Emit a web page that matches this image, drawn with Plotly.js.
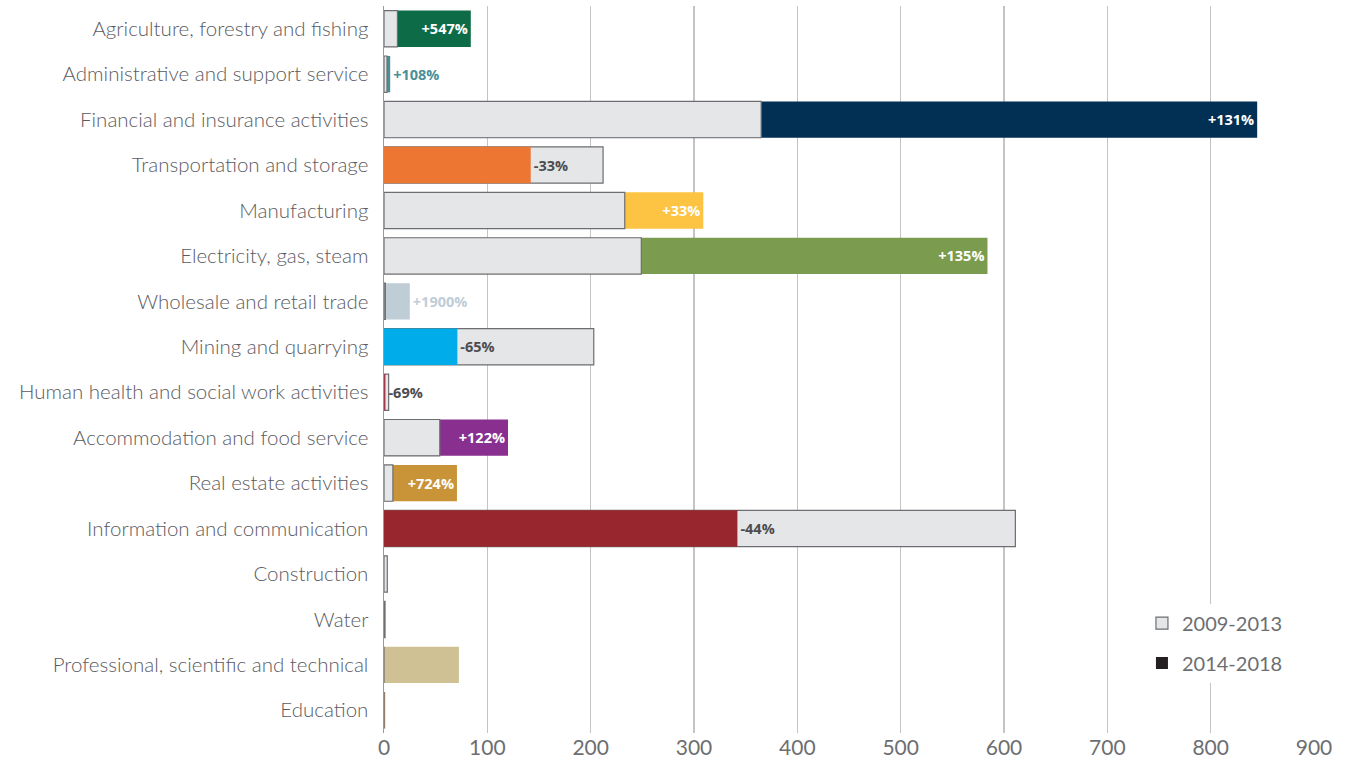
<!DOCTYPE html>
<html>
<head>
<meta charset="utf-8">
<script src="https://cdn.plot.ly/plotly-3.0.1.min.js"></script>
<style>html,body{margin:0;padding:0;background:#fff;}#chart{width:1353px;height:763px;}</style>
</head>
<body>
<div id="chart"></div>
<script>
const categories = [
  "Agriculture, forestry and fishing",
  "Administrative and support service",
  "Financial and insurance activities",
  "Transportation and storage",
  "Manufacturing",
  "Electricity, gas, steam",
  "Wholesale and retail trade",
  "Mining and quarrying",
  "Human health and social work activities",
  "Accommodation and food service",
  "Real estate activities",
  "Information and communication",
  "Construction",
  "Water",
  "Professional, scientific and technical",
  "Education"
];
const v2009_2013 = [13, 2.9, 365, 212, 233, 249, 1.3, 203, 4.5, 54, 8.6, 611, 3.2, 1, 0, 0];
const v2014_2018 = [84, 6, 845, 142, 309, 584, 25, 71, 1.4, 120, 70.6, 342, 0, 0, 72.5, 1.2];
const pctLabels = ["+547%", "+108%", "+131%", "-33%", "+33%", "+135%", "+1900%", "-65%", "-69%", "+122%", "+724%", "-44%", "", "", "", ""];
const barColors = ["#0e6b47", "#4b8f98", "#022f54", "#ee7633", "#fdc443", "#7b9c4e", "#bfcdd7", "#00adea", "#a5394b", "#892f90", "#c99437", "#98262e", "#c8c8c8", "#c8c8c8", "#cfc193", "#c8956b"];
const legendNames = ["2009-2013", "2014-2018"];

const greyFill = "#e5e6e8", greyLine = "#6d6e71", darkText = "#4d4d4f";
const smallThreshold = 40;

const greyBack = v2009_2013.map((v, i) => v >= v2014_2018[i] ? v : null);
const greyFront = v2009_2013.map((v, i) => v < v2014_2018[i] ? v : null);
const textPos = v2014_2018.map((v, i) => (v < v2009_2013[i] || v < smallThreshold) ? "outside" : "inside");
const textCol = v2014_2018.map((v, i) => v < v2009_2013[i] ? darkText : (v < smallThreshold ? barColors[i] : "#ffffff"));

const common = {type: "bar", orientation: "h", y: categories, hoverinfo: "x+y"};

const traces = [
  Object.assign({}, common, {x: greyBack, marker: {color: greyFill, line: {color: greyLine, width: 1.2}}, showlegend: false}),
  Object.assign({}, common, {x: v2014_2018, marker: {color: barColors, line: {width: 0}}, text: pctLabels,
    textposition: textPos, insidetextanchor: "end", textangle: 0, constraintext: "none", cliponaxis: false,
    textfont: {family: "Open Sans", size: 14.5, weight: 700, color: textCol}, showlegend: false}),
  Object.assign({}, common, {x: greyFront, marker: {color: greyFill, line: {color: greyLine, width: 1.2}}, showlegend: false}),
  Object.assign({}, common, {x: [null], y: [categories[0]], name: legendNames[0], legendgroup: "a", marker: {color: greyFill, line: {color: greyLine, width: 1.2}}}),
  Object.assign({}, common, {x: [null], y: [categories[0]], name: legendNames[1], legendgroup: "b", marker: {color: "#231f20", line: {width: 0}}})
];

const layout = {
  width: 1353, height: 763,
  margin: {l: 384, r: 39, t: 6, b: 30},
  paper_bgcolor: "#ffffff", plot_bgcolor: "#ffffff",
  barmode: "overlay", bargap: 0.2,
  font: {family: "Lato, 'Open Sans', sans-serif", color: "#5b5b5f"},
  xaxis: {range: [0, 900], dtick: 100, tick0: 0, showgrid: true, gridcolor: "#c4c4c4", gridwidth: 1.5,
    zeroline: false, showline: false, ticks: "", tickfont: {size: 21, color: "#6d6e71"}, fixedrange: true},
  yaxis: {type: "category", autorange: "reversed", showgrid: false, zeroline: false,
    showline: true, linecolor: "#9a9a9c", linewidth: 1.5, ticks: "", ticklabelstandoff: 10,
    tickfont: {size: 20.5, color: "#5b5b5f", weight: 300}, fixedrange: true},
  legend: {x: 0.815, y: 0.178, xanchor: "left", yanchor: "top", bgcolor: "#ffffff",
    font: {size: 20, color: "#6d6e71"}, tracegroupgap: 11, itemwidth: 30},
  showlegend: true
};

Plotly.newPlot("chart", traces, layout, {displayModeBar: false, staticPlot: true});
</script>
</body>
</html>
